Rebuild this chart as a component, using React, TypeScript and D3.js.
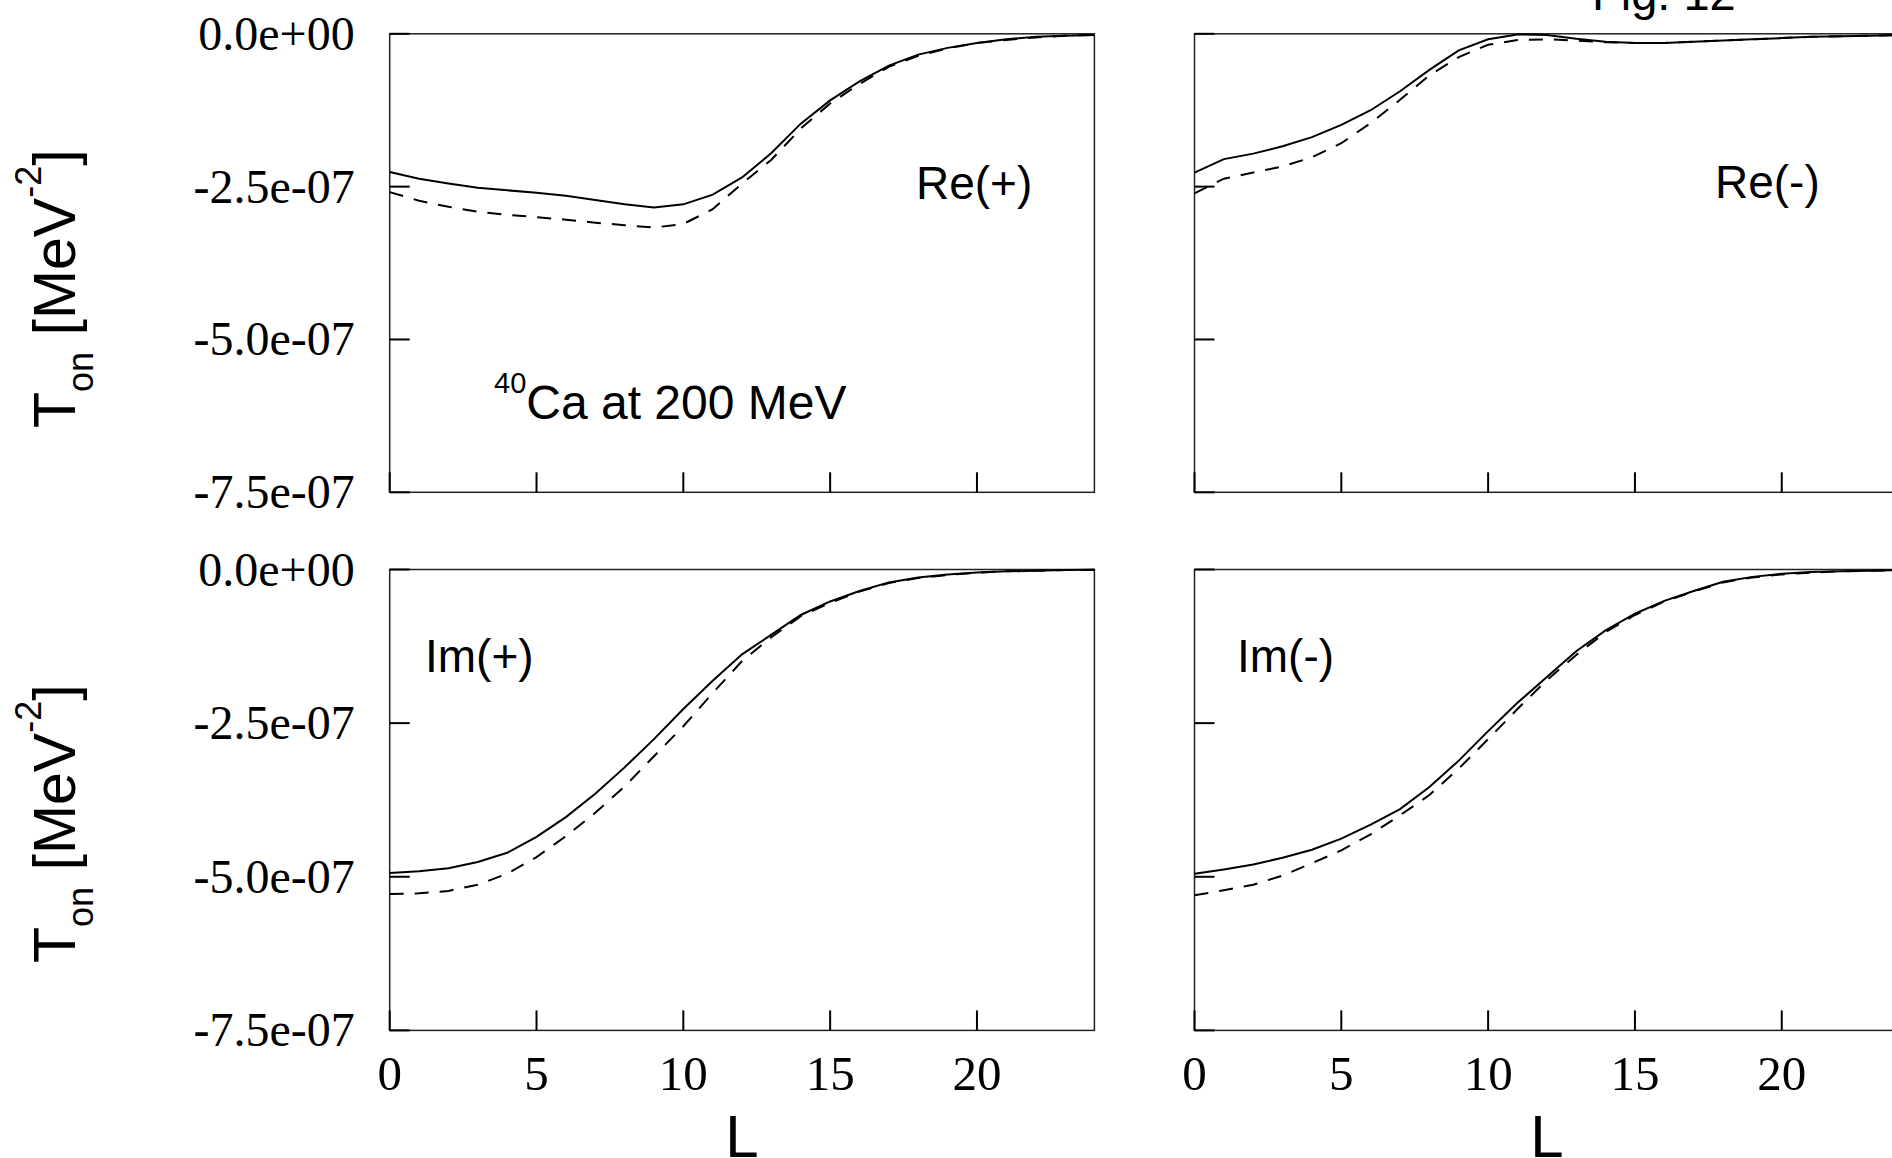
import React from "react";
import * as d3 from "d3";

// L values (partial waves)
const Lvals = d3.range(0, 25);

// values in units of 1e-7 MeV^-2
const rePlusSolid = [-2.26, -2.37, -2.45, -2.52, -2.56, -2.6, -2.65, -2.72, -2.79, -2.84, -2.79, -2.63, -2.35, -1.95, -1.47, -1.09, -0.78, -0.52, -0.34, -0.23, -0.15, -0.09, -0.05, -0.03, -0.02];
const rePlusDashed = [-2.59, -2.73, -2.83, -2.91, -2.96, -3.0, -3.04, -3.09, -3.13, -3.17, -3.11, -2.87, -2.45, -2.06, -1.55, -1.14, -0.82, -0.54, -0.36, -0.24, -0.15, -0.1, -0.06, -0.03, -0.02];
const reMinusSolid = [-2.27, -2.05, -1.96, -1.84, -1.69, -1.49, -1.25, -0.94, -0.59, -0.27, -0.09, -0.01, -0.02, -0.08, -0.13, -0.15, -0.15, -0.13, -0.11, -0.09, -0.07, -0.05, -0.04, -0.03, -0.02];
const reMinusDashed = [-2.61, -2.37, -2.27, -2.17, -2.02, -1.79, -1.46, -1.08, -0.68, -0.38, -0.18, -0.1, -0.09, -0.11, -0.14, -0.15, -0.15, -0.13, -0.11, -0.09, -0.07, -0.05, -0.04, -0.03, -0.02];
const imPlusSolid = [-4.94, -4.91, -4.86, -4.76, -4.61, -4.35, -4.03, -3.65, -3.22, -2.76, -2.27, -1.81, -1.38, -1.06, -0.74, -0.52, -0.35, -0.21, -0.13, -0.08, -0.05, -0.03, -0.02, -0.01, -0.005];
const imPlusDashed = [-5.28, -5.27, -5.23, -5.13, -4.95, -4.68, -4.34, -3.96, -3.53, -3.04, -2.55, -2.01, -1.49, -1.1, -0.76, -0.54, -0.36, -0.22, -0.14, -0.09, -0.05, -0.03, -0.02, -0.01, -0.005];
const imMinusSolid = [-4.95, -4.88, -4.8, -4.69, -4.56, -4.38, -4.15, -3.9, -3.54, -3.11, -2.63, -2.17, -1.75, -1.33, -0.99, -0.72, -0.51, -0.35, -0.2, -0.12, -0.07, -0.04, -0.03, -0.02, -0.01];
const imMinusDashed = [-5.3, -5.22, -5.13, -4.98, -4.78, -4.57, -4.31, -4.0, -3.67, -3.24, -2.76, -2.27, -1.8, -1.39, -1.02, -0.74, -0.52, -0.36, -0.21, -0.13, -0.08, -0.05, -0.03, -0.02, -0.01];

const xTicks = [0, 5, 10, 15, 20];
const yTicks = [0, -2.5e-7, -5e-7, -7.5e-7];
const panelLabels = ["Re(+)", "Re(-)", "Im(+)", "Im(-)"];
const yTitle = { main: "T", sub: "on", unit: " [MeV", sup: "-2", close: "]" };
const xTitle = "L";
const figTitle = "Fig. 12";
const nucleus = { mass: "40", rest: "Ca at 200 MeV" };

const fmtExp = (v: number) => {
  const s = v.toExponential(1);
  return s.replace(/e([+-])(\d)$/, "e$10$2");
};

const serif = "'Liberation Serif', 'Times New Roman', serif";
const sans = "'Liberation Sans', Arial, Helvetica, sans-serif";

type PanelProps = {
  x0: number; x1: number; y0: number; y1: number;
  solid: number[]; dashed: number[];
  showYLabels: boolean; showXLabels: boolean;
};

function Panel({ x0, x1, y0, y1, solid, dashed, showYLabels, showXLabels }: PanelProps) {
  const x = d3.scaleLinear().domain([0, 24]).range([x0, x1]);
  const y = d3.scaleLinear().domain([-7.5e-7, 0]).range([y1, y0]);
  const line = d3
    .line<number>()
    .x((_, i) => x(Lvals[i]))
    .y((d) => y(d * 1e-7));
  const tickLen = 20;
  return (
    <g>
      <rect x={x0} y={y0} width={x1 - x0} height={y1 - y0} fill="none" stroke="#222" strokeWidth={1.5} />
      {yTicks.map((t) => (
        <g key={"y" + t}>
          <line x1={x0} x2={x0 + tickLen} y1={y(t)} y2={y(t)} stroke="#000" strokeWidth={2} />
          {showYLabels && (
            <text x={x0 - 35} y={y(t) + 16} textAnchor="end" fontFamily={serif} fontSize={48} fill="#000">
              {fmtExp(t)}
            </text>
          )}
        </g>
      ))}
      {xTicks.map((t) => (
        <g key={"x" + t}>
          <line x1={x(t)} x2={x(t)} y1={y1} y2={y1 - tickLen} stroke="#000" strokeWidth={2} />
          {showXLabels && (
            <text x={x(t)} y={y1 + 60} textAnchor="middle" fontFamily={serif} fontSize={49} fill="#000">
              {t}
            </text>
          )}
        </g>
      ))}
      <path d={line(solid) || ""} fill="none" stroke="#000" strokeWidth={2} />
      <path d={line(dashed) || ""} fill="none" stroke="#000" strokeWidth={2} strokeDasharray="14,11" />
    </g>
  );
}

function YTitle({ cx, startY }: { cx: number; startY: number }) {
  return (
    <text
      transform={`translate(${cx},${startY}) rotate(-90)`}
      textAnchor="start"
      fontFamily={sans}
      fontSize={59}
      fill="#000"
    >
      {yTitle.main}
      <tspan fontSize={36} dy={18}>{yTitle.sub}</tspan>
      <tspan dy={-18}>{yTitle.unit}</tspan>
      <tspan fontSize={36} dy={-34}>{yTitle.sup}</tspan>
      <tspan dy={34}>{yTitle.close}</tspan>
    </text>
  );
}

export default function App() {
  const W = 1892;
  const H = 1158;
  const left = [389.7, 1094.4];
  const right = [1194.5, 1899.2];
  const top = [33.8, 492.3];
  const bottom = [569.5, 1030.4];
  return (
    <svg
      width={W}
      height={H}
      viewBox={`0 0 ${W} ${H}`}
      style={{ position: "absolute", left: 0, top: 0, background: "#fff" }}
    >
      <rect x={0} y={0} width={W} height={H} fill="#fff" />
      <Panel x0={left[0]} x1={left[1]} y0={top[0]} y1={top[1]} solid={rePlusSolid} dashed={rePlusDashed} showYLabels showXLabels={false} />
      <Panel x0={right[0]} x1={right[1]} y0={top[0]} y1={top[1]} solid={reMinusSolid} dashed={reMinusDashed} showYLabels={false} showXLabels={false} />
      <Panel x0={left[0]} x1={left[1]} y0={bottom[0]} y1={bottom[1]} solid={imPlusSolid} dashed={imPlusDashed} showYLabels showXLabels />
      <Panel x0={right[0]} x1={right[1]} y0={bottom[0]} y1={bottom[1]} solid={imMinusSolid} dashed={imMinusDashed} showYLabels={false} showXLabels />

      <text x={916} y={199} fontFamily={sans} fontSize={46} fill="#000">{panelLabels[0]}</text>
      <text x={1715} y={198} fontFamily={sans} fontSize={46} fill="#000">{panelLabels[1]}</text>
      <text x={425} y={672} fontFamily={sans} fontSize={46} fill="#000">{panelLabels[2]}</text>
      <text x={1237} y={672} fontFamily={sans} fontSize={46} fill="#000">{panelLabels[3]}</text>

      <text x={494} y={419} fontFamily={sans} fontSize={48} fill="#000">
        <tspan fontSize={29} dy={-26}>{nucleus.mass}</tspan>
        <tspan dy={26}>{nucleus.rest}</tspan>
      </text>

      <text x={1592} y={10} fontFamily={sans} fontSize={47} fill="#000">{figTitle}</text>

      <YTitle cx={75} startY={428} />
      <YTitle cx={75} startY={963} />

      <text x={(left[0] + left[1]) / 2} y={1157} textAnchor="middle" fontFamily={sans} fontSize={60} fill="#000">{xTitle}</text>
      <text x={(right[0] + right[1]) / 2} y={1157} textAnchor="middle" fontFamily={sans} fontSize={60} fill="#000">{xTitle}</text>
    </svg>
  );
}
